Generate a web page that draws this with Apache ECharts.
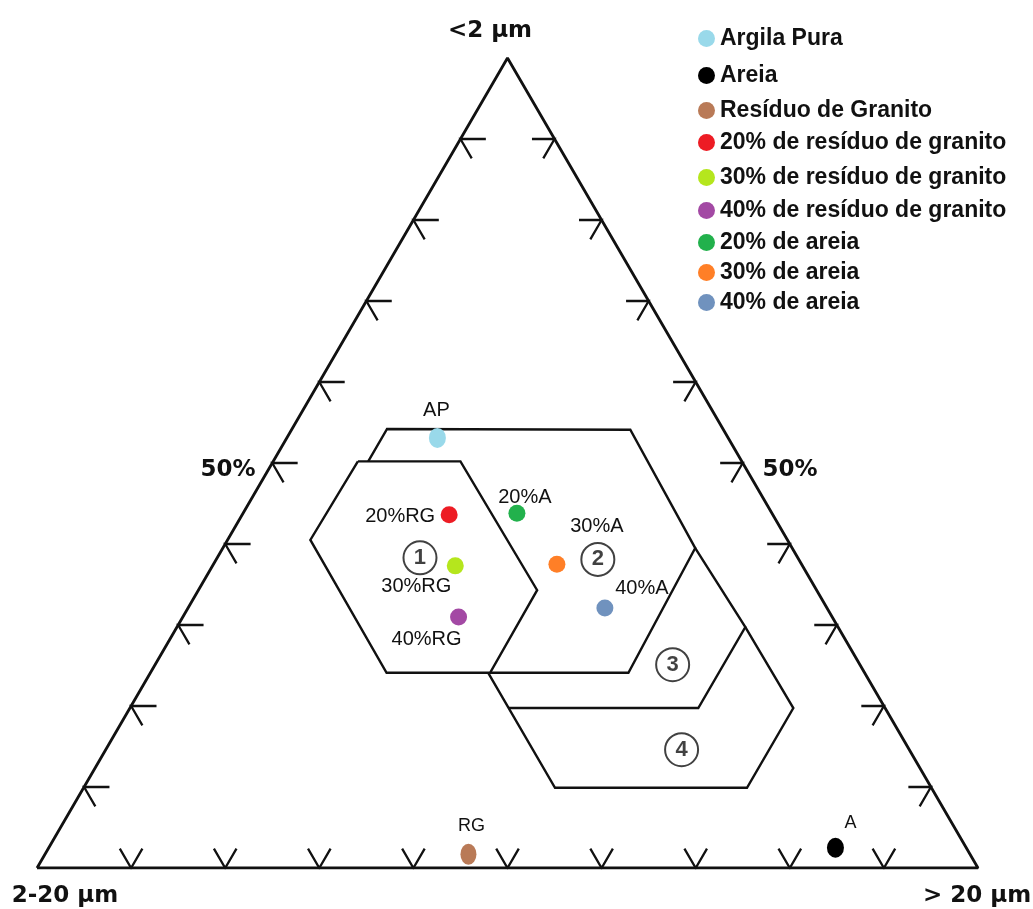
<!DOCTYPE html>
<html>
<head>
<meta charset="utf-8">
<title>Diagrama ternário granulométrico</title>
<script src="https://cdn.jsdelivr.net/npm/echarts@6/dist/echarts.min.js"></script>
<style>
  html, body { margin: 0; padding: 0; background: #fff; }
  #chart { width: 1033px; height: 909px; }
</style>
</head>
<body>
<div id="chart"></div>
<script>
// ---- Sample data: grain-size fractions in percent ----
// clay = <2 µm, silt = 2–20 µm, sand = >20 µm
const sampleNames = [
  'Argila Pura', 'Areia', 'Resíduo de Granito',
  '20% de resíduo de granito', '30% de resíduo de granito', '40% de resíduo de granito',
  '20% de areia', '30% de areia', '40% de areia'
];
const sampleTags = ['AP', 'A', 'RG', '20%RG', '30%RG', '40%RG', '20%A', '30%A', '40%A'];
const clayPct = [53.1, 2.5, 1.7, 43.6, 37.3, 31.0, 43.8, 37.5, 32.1];
const sandPct = [16.0, 83.6, 45.0, 22.0, 25.8, 29.3, 29.1, 36.5, 44.3];
const siltPct = [30.9, 13.9, 53.3, 34.4, 36.9, 39.7, 27.1, 26.0, 23.6];

// ---- Diagram scale ----
const tickPercents = [10, 20, 30, 40, 50, 60, 70, 80, 90];

// ---- Zones of the diagram, vertices as [clay, sand] ----
const zone1 = [[50.2, 9.0], [50.2, 19.9], [34.3, 36.0], [24.1, 36.1], [24.1, 25.1], [40.5, 8.8], [50.2, 9.0]];
const zone2 = [[50.2, 10.1], [54.2, 10.1], [54.1, 36.0], [39.5, 50.2], [24.1, 50.8], [24.1, 36.1]];
const zone3 = [[39.5, 50.2], [29.75, 60.4], [19.75, 60.4], [19.75, 40.25]];
const zone4 = [[29.75, 60.4], [19.75, 70.5], [9.9, 70.5], [9.9, 50.1], [24.1, 35.9]];
const zoneNumbers = ['1', '2', '3', '4'];
const zoneNumberPos = [[38.3, 21.55], [38.1, 40.55], [25.1, 55.0], [14.6, 61.2]];

// ---- Styling ----
const sampleColors = ['#99d9ea', '#000000', '#b97a57', '#ed1c24', '#b5e61d', '#a349a4', '#22b14c', '#ff7f27', '#7092be'];
const sampleSizes = [[17, 20], [17, 20], [16, 21], 17, 17, 17, 17, 17, 17];
const tagOffsets = [[-1, -27], [15, -25], [3, -28], [-49, 2], [-39, 21], [-32, 23], [8, -16], [40, -38], [37, -20]];
const tagFontSizes = [20, 18, 18, 20, 20, 20, 20, 20, 20];
const legendRowCenters = [38, 75, 110, 142, 177, 210, 242, 272, 302];

// ternary (clay, sand) -> cartesian (x, y); y axis holds the clay share
const toXY = (clay, sand) => [sand + clay / 2, clay];

const INK = '#111';
const TICK = 2.4; // tick arm length, in percent

// Ticks: each is a small open chevron sitting on a side of the triangle
const tickLines = [];
tickPercents.forEach(p => {
  // left side (sand = 0): arms parallel to the base and to the right side
  tickLines.push({ coords: [toXY(p, TICK + 0.3), toXY(p, 0), toXY(p - TICK, TICK)] });
  // right side (silt = 0): arms parallel to the base and to the left side
  const s = 100 - p;
  tickLines.push({ coords: [toXY(p, s - TICK), toXY(p, s), toXY(p - TICK, s)] });
  // base (clay = 0): arms parallel to the two slanted sides
  tickLines.push({ coords: [toXY(TICK, p - TICK), toXY(0, p), toXY(TICK, p)] });
});

const zoneLines = [zone1, zone2, zone3, zone4].map(z => ({ coords: z.map(v => toXY(v[0], v[1])) }));

const series = [
  {
    type: 'line',
    silent: true,
    symbol: 'none',
    data: [toXY(0, 0), toXY(0, 100), toXY(100, 0), toXY(0, 0)],
    lineStyle: { color: INK, width: 2.8 },
    z: 2
  },
  {
    type: 'lines',
    coordinateSystem: 'cartesian2d',
    polyline: true,
    silent: true,
    data: tickLines,
    lineStyle: { color: INK, width: 2.3, opacity: 1 },
    z: 2
  },
  {
    type: 'lines',
    coordinateSystem: 'cartesian2d',
    polyline: true,
    silent: true,
    data: zoneLines,
    lineStyle: { color: INK, width: 2.4, opacity: 1 },
    z: 2
  },
  {
    type: 'scatter',
    silent: true,
    symbol: 'circle',
    symbolSize: 33,
    data: zoneNumberPos.map((v, i) => ({ value: toXY(v[0], v[1]), name: zoneNumbers[i] })),
    itemStyle: { color: 'rgba(255,255,255,0)', borderColor: INK, borderWidth: 2 },
    label: {
      show: true,
      position: 'inside',
      formatter: p => p.name,
      color: INK,
      fontFamily: 'Liberation Sans',
      fontSize: 22,
      fontWeight: 'bold'
    },
    z: 3
  }
];

sampleNames.forEach((name, i) => {
  series.push({
    type: 'scatter',
    name: name,
    symbol: 'circle',
    symbolSize: sampleSizes[i],
    itemStyle: { color: sampleColors[i], opacity: 1 },
    data: [{ value: toXY(clayPct[i], sandPct[i]), silt: siltPct[i] }],
    label: {
      show: true,
      position: 'inside',
      offset: tagOffsets[i],
      formatter: sampleTags[i],
      color: INK,
      fontFamily: 'Liberation Sans',
      fontSize: tagFontSizes[i],
      fontWeight: 'normal'
    },
    z: 4
  });
});

const legends = sampleNames.map((name, i) => ({
  data: [name],
  left: 698,
  top: legendRowCenters[i] - 11,
  padding: 0,
  icon: 'circle',
  itemWidth: 17,
  itemHeight: 17,
  selectedMode: false,
  textStyle: {
    fontFamily: 'Liberation Sans',
    fontWeight: 'bold',
    fontSize: 23,
    lineHeight: 22,
    color: INK
  }
}));

const titleFont = { fontFamily: 'DejaVu Sans', fontWeight: 'bold', fontSize: 23, fill: INK };
const graphicTexts = [
  { text: '<2 μm', x: 490, y: 31 },
  { text: '2-20 μm', x: 65, y: 896 },
  { text: '> 20 μm', x: 977, y: 896 },
  { text: '50%', x: 228, y: 470 },
  { text: '50%', x: 790, y: 470 }
].map(t => ({
  type: 'text',
  x: t.x,
  y: t.y,
  silent: true,
  style: Object.assign({ text: t.text, textAlign: 'center', textVerticalAlign: 'middle' }, titleFont)
}));

const chart = echarts.init(document.getElementById('chart'), null, { renderer: 'canvas' });
chart.setOption({
  backgroundColor: '#ffffff',
  animation: false,
  grid: { left: 37, top: 58, width: 941, height: 810, containLabel: false },
  xAxis: { type: 'value', min: 0, max: 100, show: false },
  yAxis: { type: 'value', min: 0, max: 100, show: false },
  legend: legends,
  graphic: graphicTexts,
  series: series
});
</script>
</body>
</html>
